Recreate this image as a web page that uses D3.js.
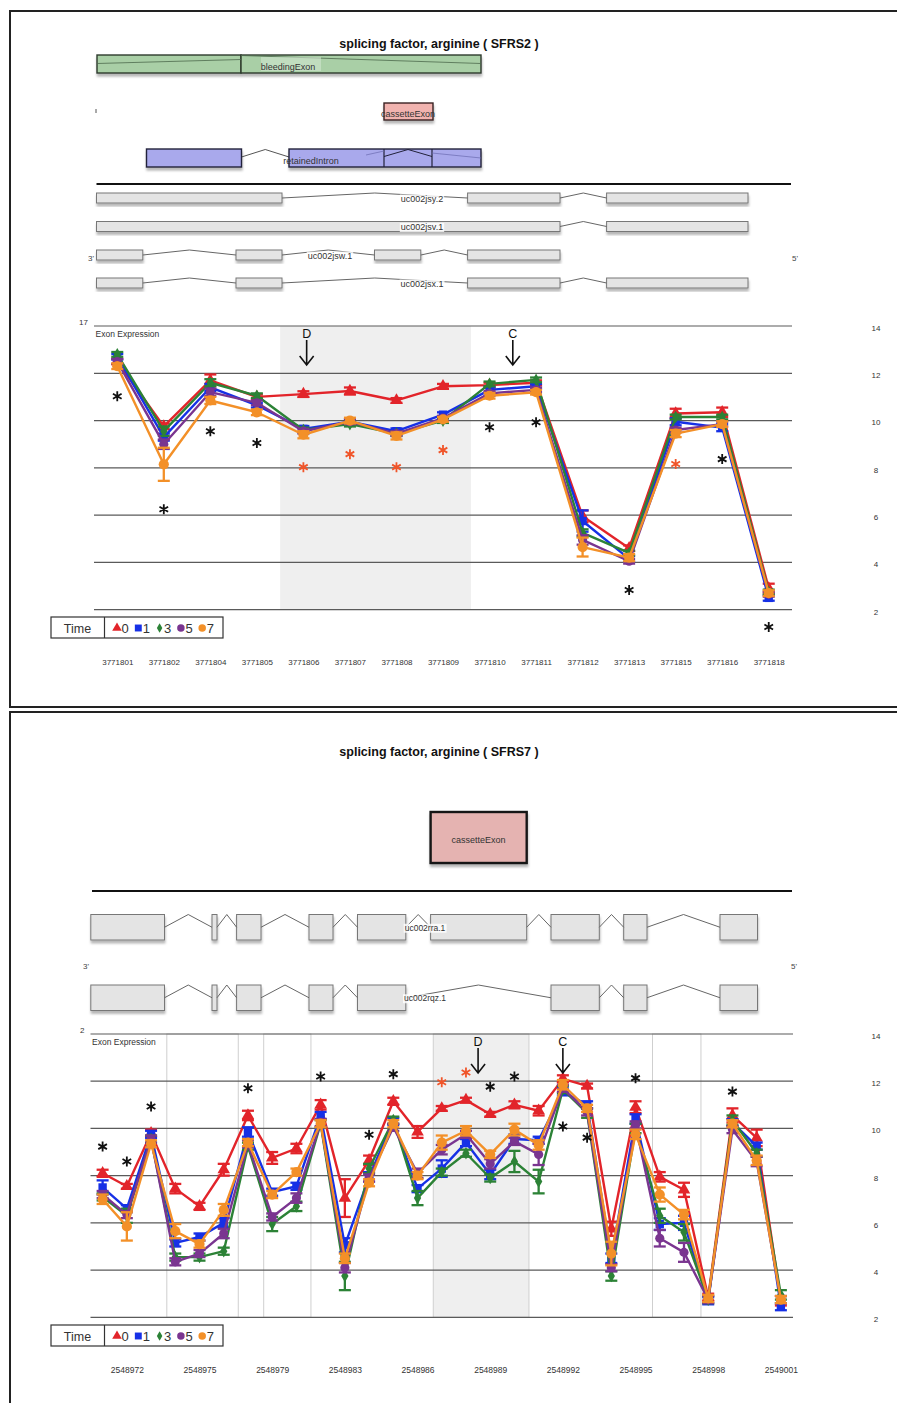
<!DOCTYPE html>
<html>
<head>
<meta charset="utf-8">
<script src="https://cdn.jsdelivr.net/npm/d3@7"></script>
<style>
  body { margin: 0; background: #fff; }
  svg { display: block; }
  text { font-family: "Liberation Sans", Arial, sans-serif; }
</style>
</head>
<body>
<svg id="fig" width="897" height="1403"></svg>
<script>
// ---------------- SFRS2 ----------------
const sfrs2Probesets = ["3771801","3771802","3771804","3771805","3771806","3771807","3771808","3771809",
                        "3771810","3771811","3771812","3771813","3771815","3771816","3771818"];
const sfrs2Time0 = [12.5, 9.75, 11.7, 11.0, 11.12, 11.25, 10.85, 11.45, 11.5, 11.6, 5.95, 4.6, 10.3, 10.35, 2.9];
const sfrs2Time1 = [12.7, 9.3, 11.4, 10.65, 9.65, 9.95, 9.55, 10.25, 11.3, 11.45, 5.75, 4.15, 9.95, 9.7, 2.5];
const sfrs2Time3 = [12.8, 9.55, 11.6, 11.05, 9.6, 9.85, 9.45, 10.0, 11.55, 11.72, 5.25, 4.4, 10.15, 10.15, 2.75];
const sfrs2Time5 = [12.5, 9.0, 11.2, 10.75, 9.55, 9.95, 9.45, 10.1, 11.15, 11.3, 4.95, 4.05, 9.6, 9.85, 2.65];
const sfrs2Time7 = [12.3, 8.15, 10.85, 10.35, 9.4, 10.0, 9.35, 10.05, 11.05, 11.2, 4.65, 4.2, 9.45, 9.85, 2.7];
const sfrs2Err0 = [0.12, 0.12, 0.25, 0.1, 0.12, 0.15, 0.1, 0.1, 0.1, 0.1, 0.25, 0.12, 0.2, 0.2, 0.2];
const sfrs2Err1 = [0.12, 0.15, 0.15, 0.1, 0.12, 0.1, 0.12, 0.1, 0.12, 0.1, 0.45, 0.12, 0.15, 0.15, 0.12];
const sfrs2Err3 = [0.1, 0.2, 0.15, 0.1, 0.1, 0.1, 0.1, 0.1, 0.1, 0.1, 0.15, 0.1, 0.1, 0.1, 0.1];
const sfrs2Err5 = [0.1, 0.2, 0.15, 0.1, 0.1, 0.1, 0.1, 0.1, 0.1, 0.1, 0.2, 0.1, 0.1, 0.1, 0.1];
const sfrs2Err7 = [0.12, 0.7, 0.15, 0.12, 0.15, 0.12, 0.15, 0.1, 0.12, 0.1, 0.4, 0.15, 0.15, 0.12, 0.12];
// significance marks: [probeset index, value, red?]
const sfrs2Stars = [[0, 11.03, 0], [1, 6.25, 0], [2, 9.55, 0], [3, 9.05, 0], [4, 8.03, 1], [5, 8.58, 1],
                    [6, 8.03, 1], [7, 8.75, 1], [8, 9.72, 0], [9, 9.93, 0], [11, 2.83, 0], [12, 8.16, 1],
                    [13, 8.37, 0], [14, 1.27, 0]];
const sfrs2Arrows = [["D", 4.07], ["C", 8.5]];
const sfrs2Shaded = [[3.5, 7.6]];
const sfrs2Boxed = [];

// gene model (track units)
const sfrs2Bleeding = [[1, 145], [145, 385]];
const sfrs2Cassette = [[288, 337]];
const sfrs2Retained = [[50.5, 145.5], [193, 385]];
const sfrs2RetainedSplits = [288, 336];
const sfrs2Transcripts = [
  ["uc002jsy.2", 326, [[0.5, 186], [371.6, 464], [510.6, 652]]],
  ["uc002jsv.1", 326, [[0.5, 464], [510.6, 652]]],
  ["uc002jsw.1", 234, [[0.5, 46.8], [140, 186], [278.5, 324.8], [371.6, 464]]],
  ["uc002jsx.1", 326, [[0.5, 46.8], [140, 186], [371.6, 464], [510.6, 652]]]
];

// ---------------- SFRS7 ----------------
const sfrs7Probesets = ["2548971","2548972","2548973","2548974","2548975","2548976","2548978","2548979",
                        "2548980","2548982","2548983","2548984","2548985","2548986","2548987","2548988",
                        "2548989","2548990","2548991","2548992","2548993","2548994","2548995","2548996",
                        "2548997","2548998","2548999","2549000","2549001"];
const sfrs7Labeled = ["2548972","2548975","2548979","2548983","2548986","2548989","2548992","2548995","2548998","2549001"];
const sfrs7Time0 = [8.1, 7.55, 9.8, 7.45, 6.7, 8.25, 10.55, 8.75, 9.15, 11.0, 7.05, 8.65, 11.15, 9.85, 10.85,
                    11.2, 10.6, 11.0, 10.75, 12.1, 11.8, 5.75, 10.9, 7.95, 7.4, 2.85, 10.55, 9.6, 2.7];
const sfrs7Time1 = [7.5, 6.6, 9.75, 5.15, 5.4, 6.0, 9.85, 7.3, 7.55, 10.55, 5.05, 7.95, 10.3, 7.45, 8.3,
                    9.4, 8.05, 9.55, 9.5, 11.55, 11.0, 4.5, 10.4, 5.95, 6.0, 2.7, 10.25, 9.25, 2.45];
const sfrs7Time3 = [7.1, 6.3, 9.55, 4.55, 4.55, 4.8, 9.25, 5.95, 6.7, 10.2, 3.75, 8.3, 10.35, 7.05, 8.15,
                    8.95, 7.9, 8.6, 7.75, 11.65, 10.65, 3.75, 10.0, 6.3, 5.6, 2.75, 10.35, 8.95, 2.95];
const sfrs7Time5 = [7.2, 6.35, 9.55, 4.35, 4.7, 5.55, 9.35, 6.25, 7.05, 10.25, 4.1, 7.9, 10.05, 8.1, 9.1,
                    9.75, 8.5, 9.45, 8.9, 11.7, 10.7, 4.1, 10.15, 5.35, 4.75, 2.75, 9.95, 8.6, 2.75];
const sfrs7Time7 = [7.0, 5.85, 9.35, 5.65, 5.1, 6.55, 9.4, 7.2, 8.15, 10.2, 4.5, 7.7, 10.2, 8.0, 9.4,
                    9.9, 8.9, 9.95, 9.3, 11.85, 10.85, 4.7, 9.75, 7.2, 6.35, 2.8, 10.2, 8.65, 2.75];
const sfrs7Err0 = [0.15, 0.1, 0.15, 0.2, 0.15, 0.25, 0.2, 0.25, 0.2, 0.2, 0.8, 0.2, 0.15, 0.25, 0.1,
                   0.1, 0.1, 0.15, 0.2, 0.15, 0.1, 0.3, 0.25, 0.2, 0.3, 0.15, 0.3, 0.35, 0.2];
const sfrs7Err1 = [0.3, 0.15, 0.15, 0.15, 0.15, 0.2, 0.2, 0.15, 0.15, 0.15, 0.3, 0.2, 0.15, 0.15, 0.35,
                   0.15, 0.2, 0.2, 0.15, 0.15, 0.15, 0.2, 0.2, 0.25, 0.3, 0.15, 0.15, 0.15, 0.15];
const sfrs7Err3 = [0.15, 0.3, 0.15, 0.15, 0.15, 0.15, 0.15, 0.3, 0.2, 0.15, 0.6, 0.2, 0.15, 0.3, 0.15,
                   0.15, 0.15, 0.45, 0.5, 0.15, 0.2, 0.2, 0.2, 0.3, 0.35, 0.15, 0.2, 0.15, 0.2];
const sfrs7Err5 = [0.15, 0.15, 0.15, 0.15, 0.15, 0.2, 0.15, 0.15, 0.2, 0.15, 0.2, 0.15, 0.15, 0.2, 0.2,
                   0.15, 0.2, 0.15, 0.45, 0.15, 0.15, 0.15, 0.15, 0.35, 0.4, 0.15, 0.15, 0.2, 0.15];
const sfrs7Err7 = [0.2, 0.6, 0.15, 0.3, 0.15, 0.25, 0.15, 0.15, 0.15, 0.15, 0.2, 0.15, 0.15, 0.15, 0.3,
                   0.2, 0.15, 0.25, 0.2, 0.2, 0.15, 0.5, 0.2, 0.3, 0.2, 0.15, 0.15, 0.2, 0.15];
const sfrs7Stars = [[0, 9.23, 0], [1, 8.6, 0], [2, 10.93, 0], [6, 11.7, 0], [9, 12.2, 0], [11, 9.73, 0],
                    [12, 12.3, 0], [14, 11.96, 1], [15, 12.37, 1], [16, 11.77, 0], [17, 12.2, 0],
                    [19, 10.08, 0], [20, 9.61, 0], [22, 12.13, 0], [26, 11.56, 0]];
const sfrs7Arrows = [["D", 15.5], ["C", 19]];
const sfrs7Shaded = [[13.65, 17.6]];
const sfrs7Boxed = [[2.65, 5.6], [6.65, 8.6], [22.7, 24.7]];

const sfrs7Cassette = [[340.6, 436.7]];
const sfrs7Transcripts = [
  ["uc002rra.1", 335, [[0.8, 74.5], [122, 127], [146.6, 171], [219, 243], [267.5, 315.8], [340.6, 436.7],
                       [461, 509.3], [533.7, 557], [630, 667.5]]],
  ["uc002rqz.1", 335, [[0.8, 74.5], [122, 127], [146.6, 171], [219, 243], [267.5, 315.8],
                       [461, 509.3], [533.7, 557], [630, 667.5]]]
];

const timeLabels = ["0", "1", "3", "5", "7"];
const yTickValues = [2, 4, 6, 8, 10, 12, 14];

// ---------------- drawing ----------------
const svg = d3.select("#fig");
const defs = svg.append("defs");
const sh = defs.append("filter").attr("id", "shadow").attr("x", "-10%").attr("y", "-20%")
  .attr("width", "130%").attr("height", "160%");
sh.append("feDropShadow").attr("dx", 0.5).attr("dy", 3).attr("stdDeviation", 1.3)
  .attr("flood-color", "#000").attr("flood-opacity", 0.28);

const seriesStyle = [
  { color: "#e2242a", shape: d3.symbolTriangle, size: 68, lsize: 40 },
  { color: "#1630e6", shape: d3.symbolSquare, size: 70, lsize: 48 },
  { color: "#2c8236", shape: d3.symbolDiamond, size: 46, lsize: 26 },
  { color: "#7a3590", shape: d3.symbolCircle, size: 66, lsize: 44 },
  { color: "#f39028", shape: d3.symbolCircle, size: 82, lsize: 44 }
];

// panel frames
svg.append("rect").attr("x", 10).attr("y", 11).attr("width", 900).attr("height", 696)
  .attr("fill", "none").attr("stroke", "#222").attr("stroke-width", 2);
svg.append("rect").attr("x", 10).attr("y", 712).attr("width", 900).attr("height", 720)
  .attr("fill", "none").attr("stroke", "#222").attr("stroke-width", 2);

function title(text, y) {
  svg.append("text").attr("x", 439).attr("y", y).attr("text-anchor", "middle")
    .attr("font-size", 12.5).attr("font-weight", "bold").attr("fill", "#111").text(text);
}

function labelWithBack(g, text, x, y, size) {
  const t = g.append("text").attr("x", x).attr("y", y).attr("text-anchor", "middle")
    .attr("font-size", size).attr("fill", "#333").text(text);
  const bb = t.node().getBBox();
  g.insert("rect", () => t.node()).attr("x", bb.x - 1).attr("y", bb.y + 1)
    .attr("width", bb.width + 2).attr("height", bb.height - 1).attr("fill", "#fff").attr("opacity", 0.8);
}

function transcript(g, tx, exons, yTop, h, label, labelX, labelSize) {
  const gg = g.append("g");
  const ex = gg.append("g").attr("filter", "url(#shadow)");
  for (let i = 0; i < exons.length - 1; i++) {
    const a = tx(exons[i][1]), b = tx(exons[i + 1][0]);
    gg.append("path")
      .attr("d", `M${a},${yTop + h / 2}L${(a + b) / 2},${yTop}L${b},${yTop + h / 2}`)
      .attr("fill", "none").attr("stroke", "#666").attr("stroke-width", 1);
  }
  ex.selectAll("rect").data(exons).join("rect")
    .attr("x", d => tx(d[0])).attr("y", yTop)
    .attr("width", d => tx(d[1]) - tx(d[0])).attr("height", h)
    .attr("fill", "#e4e4e4").attr("stroke", "#777").attr("stroke-width", 1);
  labelWithBack(gg, label, tx(labelX), yTop + h / 2 + 3.5, labelSize);
}

// ---- SFRS2 gene model ----
title("splicing factor, arginine ( SFRS2 )", 48);
{
  const tx = d3.scaleLinear().domain([0, 700]).range([96, 796]);
  const g = svg.append("g");
  // bleeding exon
  const gb = g.append("g");
  gb.append("g").attr("filter", "url(#shadow)").selectAll("rect").data(sfrs2Bleeding).join("rect")
    .attr("x", d => tx(d[0])).attr("y", 55).attr("width", d => tx(d[1]) - tx(d[0])).attr("height", 18)
    .attr("fill", "#a9cfa6").attr("stroke", "#2d3a2d").attr("stroke-width", 1.4);
  gb.append("path").attr("d", `M${tx(1)},63.5L${tx(145)},59.5`).attr("stroke", "#4c6a4c").attr("stroke-width", 0.8).attr("fill", "none");
  gb.append("path").attr("d", `M${tx(145)},55.5L${tx(385)},63.5`).attr("stroke", "#4c6a4c").attr("stroke-width", 0.8).attr("fill", "none");
  gb.append("rect").attr("x", tx(165)).attr("y", 57).attr("width", 60).attr("height", 14).attr("fill", "#d2e6d0").attr("opacity", 0.6);
  gb.append("text").attr("x", tx(192)).attr("y", 70).attr("text-anchor", "middle").attr("font-size", 9)
    .attr("fill", "#333").text("bleedingExon");

  // small tick at the left of the cassette row
  g.append("line").attr("x1", tx(0)).attr("x2", tx(0)).attr("y1", 109).attr("y2", 113).attr("stroke", "#555");

  // cassette exon
  g.append("g").attr("filter", "url(#shadow)").selectAll("rect").data(sfrs2Cassette).join("rect")
    .attr("x", d => tx(d[0])).attr("y", 103).attr("width", d => tx(d[1]) - tx(d[0])).attr("height", 17)
    .attr("fill", "#f1b3af").attr("stroke", "#3a2222").attr("stroke-width", 1.4);
  g.append("text").attr("x", tx(312)).attr("y", 117).attr("text-anchor", "middle").attr("font-size", 9)
    .attr("fill", "#333").text("cassetteExon");

  // retained intron
  const [r0, r1] = sfrs2Retained;
  g.append("path").attr("d", `M${tx(r0[1])},157L${(tx(r0[1]) + tx(r1[0])) / 2},149.5L${tx(r1[0])},157`)
    .attr("fill", "none").attr("stroke", "#555").attr("stroke-width", 1);
  g.append("g").attr("filter", "url(#shadow)").selectAll("rect").data(sfrs2Retained).join("rect")
    .attr("x", d => tx(d[0])).attr("y", 149).attr("width", d => tx(d[1]) - tx(d[0])).attr("height", 18)
    .attr("fill", "#a9a9ec").attr("stroke", "#22223a").attr("stroke-width", 1.4);
  g.selectAll("line.split").data(sfrs2RetainedSplits).join("line").attr("class", "split")
    .attr("x1", d => tx(d)).attr("x2", d => tx(d)).attr("y1", 149).attr("y2", 167)
    .attr("stroke", "#22223a").attr("stroke-width", 1.2);
  const s0 = tx(sfrs2RetainedSplits[0]), s1 = tx(sfrs2RetainedSplits[1]);
  g.append("path").attr("d", `M${s0},156.5L${(s0 + s1) / 2},149.5L${s1},156.5`)
    .attr("fill", "none").attr("stroke", "#22223a").attr("stroke-width", 1);
  g.append("path").attr("d", `M${tx(270)},155L${s0},151`).attr("fill", "none").attr("stroke", "#6a6ab0").attr("stroke-width", 0.7);
  g.append("path").attr("d", `M${s1},153L${tx(385)},158`).attr("fill", "none").attr("stroke", "#6a6ab0").attr("stroke-width", 0.7);
  g.append("text").attr("x", tx(215)).attr("y", 164).attr("text-anchor", "middle").attr("font-size", 9)
    .attr("fill", "#333").text("retainedIntron");

  g.append("line").attr("x1", tx(0.5)).attr("x2", tx(695)).attr("y1", 184).attr("y2", 184)
    .attr("stroke", "#111").attr("stroke-width", 2);

  const rowsY = [193, 221.5, 250, 278];
  sfrs2Transcripts.forEach((t, i) => transcript(g, tx, t[2], rowsY[i], 10, t[0], t[1], 9));
  g.append("text").attr("x", 91).attr("y", 261).attr("text-anchor", "middle").attr("font-size", 8).attr("fill", "#444").text("3'");
  g.append("text").attr("x", 795).attr("y", 261).attr("text-anchor", "middle").attr("font-size", 8).attr("fill", "#444").text("5'");
}

// ---- SFRS7 gene model ----
title("splicing factor, arginine ( SFRS7 )", 756);
{
  const tx = d3.scaleLinear().domain([0, 700]).range([90, 790]);
  const g = svg.append("g");
  g.append("g").attr("filter", "url(#shadow)").selectAll("rect").data(sfrs7Cassette).join("rect")
    .attr("x", d => tx(d[0])).attr("y", 812).attr("width", d => tx(d[1]) - tx(d[0])).attr("height", 51)
    .attr("fill", "#e5b3b1").attr("stroke", "#151515").attr("stroke-width", 2.4);
  g.append("text").attr("x", tx(388.6)).attr("y", 843).attr("text-anchor", "middle").attr("font-size", 9)
    .attr("fill", "#333").text("cassetteExon");

  g.append("line").attr("x1", tx(2)).attr("x2", tx(702)).attr("y1", 891).attr("y2", 891)
    .attr("stroke", "#111").attr("stroke-width", 2);

  const rowsY = [914.5, 985];
  sfrs7Transcripts.forEach((t, i) => transcript(g, tx, t[2], rowsY[i], 25.5, t[0], t[1], 8.5));
  g.append("text").attr("x", 86).attr("y", 969).attr("text-anchor", "middle").attr("font-size", 8).attr("fill", "#444").text("3'");
  g.append("text").attr("x", 794).attr("y", 969).attr("text-anchor", "middle").attr("font-size", 8).attr("fill", "#444").text("5'");
}

// ---- expression charts ----
function asteriskPath(r) {
  const a = r * Math.cos(Math.PI / 6), b = r * Math.sin(Math.PI / 6);
  return `M0,${-r}V${r}M${-a},${-b}L${a},${b}M${-a},${b}L${a},${-b}`;
}

function drawExpression(c) {
  const g = svg.append("g");
  const x = d3.scalePoint().domain(c.probesets).range([c.left, c.right]).padding(0.5);
  const y = d3.scaleLinear().domain([2, 14]).range([c.bottom, c.top]);
  const xi = i => x(c.probesets[0]) + i * x.step();

  // shaded exon regions and outlined regions
  g.selectAll("rect.shade").data(c.shaded).join("rect").attr("class", "shade")
    .attr("x", d => xi(d[0])).attr("y", c.top).attr("width", d => xi(d[1]) - xi(d[0]))
    .attr("height", c.bottom - c.top).attr("fill", "#efefef").attr("stroke", c.boxed.length ? "#cfcfcf" : "none");
  g.selectAll("rect.box").data(c.boxed).join("rect").attr("class", "box")
    .attr("x", d => xi(d[0])).attr("y", c.top).attr("width", d => xi(d[1]) - xi(d[0]))
    .attr("height", c.bottom - c.top).attr("fill", "none").attr("stroke", "#cfcfcf").attr("stroke-width", 1);

  // horizontal gridlines
  g.selectAll("line.grid").data(yTickValues).join("line").attr("class", "grid")
    .attr("x1", c.left).attr("x2", c.right).attr("y1", d => y(d)).attr("y2", d => y(d))
    .attr("stroke", "#5a5a5a").attr("stroke-width", 1.2);

  // right-hand value labels
  const ax = g.append("g").attr("transform", `translate(876,0)`)
    .call(d3.axisRight(y).tickValues(yTickValues).tickSize(0).tickPadding(0));
  ax.select(".domain").remove();
  ax.selectAll("text").attr("x", 0).attr("text-anchor", "middle").attr("dy", "0.55em")
    .attr("font-size", 8).attr("font-family", "Liberation Sans, Arial, sans-serif").attr("fill", "#333");

  // probeset labels
  const bx = g.append("g").attr("transform", `translate(0,${c.labelY})`)
    .call(d3.axisBottom(x).tickValues(c.labeled).tickSize(0).tickPadding(0));
  bx.select(".domain").remove();
  bx.selectAll("text").attr("font-size", c.labelSize).attr("font-family", "Liberation Sans, Arial, sans-serif")
    .attr("fill", "#333");

  g.append("text").attr("x", c.left - 6).attr("y", c.top - 1).attr("text-anchor", "end")
    .attr("font-size", 8).attr("fill", "#333").text(c.cornerText);
  g.append("text").attr("x", c.left + 1.5).attr("y", c.top + 11).attr("font-size", 8.5)
    .attr("fill", "#333").text("Exon Expression");

  // series
  c.series.forEach((vals, s) => {
    const st = seriesStyle[s];
    const errs = c.errors[s];
    const sg = g.append("g");
    sg.append("path").datum(vals)
      .attr("d", d3.line().x((d, i) => x(c.probesets[i])).y(d => y(d)))
      .attr("fill", "none").attr("stroke", st.color).attr("stroke-width", 2.4).attr("stroke-linejoin", "round");
    const eb = sg.selectAll("g.err").data(vals).join("g").attr("class", "err")
      .attr("stroke", st.color).attr("stroke-width", 2.3);
    eb.append("line").attr("x1", (d, i) => x(c.probesets[i])).attr("x2", (d, i) => x(c.probesets[i]))
      .attr("y1", (d, i) => y(d + errs[i])).attr("y2", (d, i) => y(d - errs[i]));
    eb.append("line").attr("x1", (d, i) => x(c.probesets[i]) - 6).attr("x2", (d, i) => x(c.probesets[i]) + 6)
      .attr("y1", (d, i) => y(d + errs[i])).attr("y2", (d, i) => y(d + errs[i]));
    eb.append("line").attr("x1", (d, i) => x(c.probesets[i]) - 6).attr("x2", (d, i) => x(c.probesets[i]) + 6)
      .attr("y1", (d, i) => y(d - errs[i])).attr("y2", (d, i) => y(d - errs[i]));
    sg.selectAll("path.mark").data(vals).join("path").attr("class", "mark")
      .attr("d", d3.symbol().type(st.shape).size(st.size))
      .attr("transform", (d, i) => `translate(${x(c.probesets[i])},${y(d)})`)
      .attr("fill", st.color);
  });

  // significance asterisks
  g.selectAll("path.star").data(c.stars).join("path").attr("class", "star")
    .attr("d", asteriskPath(5))
    .attr("transform", d => `translate(${xi(d[0])},${y(d[1])})`)
    .attr("fill", "none").attr("stroke", d => d[2] ? "#f0552a" : "#111").attr("stroke-width", 1.8);

  // event arrows
  c.arrows.forEach(([lab, pos]) => {
    const ax0 = xi(pos);
    g.append("text").attr("x", ax0).attr("y", c.top + 12).attr("text-anchor", "middle")
      .attr("font-size", 12.5).attr("fill", "#111").text(lab);
    g.append("path").attr("d", `M${ax0},${c.top + 14}V${c.top + 39}M${ax0 - 7},${c.top + 30}L${ax0},${c.top + 39}L${ax0 + 7},${c.top + 30}`)
      .attr("fill", "none").attr("stroke", "#111").attr("stroke-width", 1.6);
  });

  // legend
  const lg = g.append("g").attr("transform", `translate(51,${c.legendY})`);
  lg.append("rect").attr("width", 172).attr("height", 21).attr("fill", "#fff")
    .attr("stroke", "#333").attr("stroke-width", 1.2);
  lg.append("line").attr("x1", 53.5).attr("x2", 53.5).attr("y1", 0).attr("y2", 21)
    .attr("stroke", "#333").attr("stroke-width", 1.2);
  lg.append("text").attr("x", 26.5).attr("y", 15.5).attr("text-anchor", "middle")
    .attr("font-size", 12.5).attr("fill", "#333").text("Time");
  timeLabels.forEach((t, i) => {
    const cx = 66 + i * 21.3;
    lg.append("path").attr("d", d3.symbol().type(seriesStyle[i].shape).size(seriesStyle[i].lsize))
      .attr("transform", `translate(${cx},11)`).attr("fill", seriesStyle[i].color);
    lg.append("text").attr("x", cx + 4.5).attr("y", 16).attr("font-size", 13).attr("fill", "#333").text(t);
  });
}

drawExpression({
  probesets: sfrs2Probesets, labeled: sfrs2Probesets,
  series: [sfrs2Time0, sfrs2Time1, sfrs2Time3, sfrs2Time5, sfrs2Time7],
  errors: [sfrs2Err0, sfrs2Err1, sfrs2Err3, sfrs2Err5, sfrs2Err7],
  stars: sfrs2Stars, arrows: sfrs2Arrows, shaded: sfrs2Shaded, boxed: sfrs2Boxed,
  left: 94, right: 792, top: 326, bottom: 609.7, labelY: 659, labelSize: 8,
  legendY: 617, cornerText: "17"
});

drawExpression({
  probesets: sfrs7Probesets, labeled: sfrs7Labeled,
  series: [sfrs7Time0, sfrs7Time1, sfrs7Time3, sfrs7Time5, sfrs7Time7],
  errors: [sfrs7Err0, sfrs7Err1, sfrs7Err3, sfrs7Err5, sfrs7Err7],
  stars: sfrs7Stars, arrows: sfrs7Arrows, shaded: sfrs7Shaded, boxed: sfrs7Boxed,
  left: 90.5, right: 793, top: 1034, bottom: 1317.3, labelY: 1367, labelSize: 8.5,
  legendY: 1325, cornerText: "2"
});
</script>
</body>
</html>
